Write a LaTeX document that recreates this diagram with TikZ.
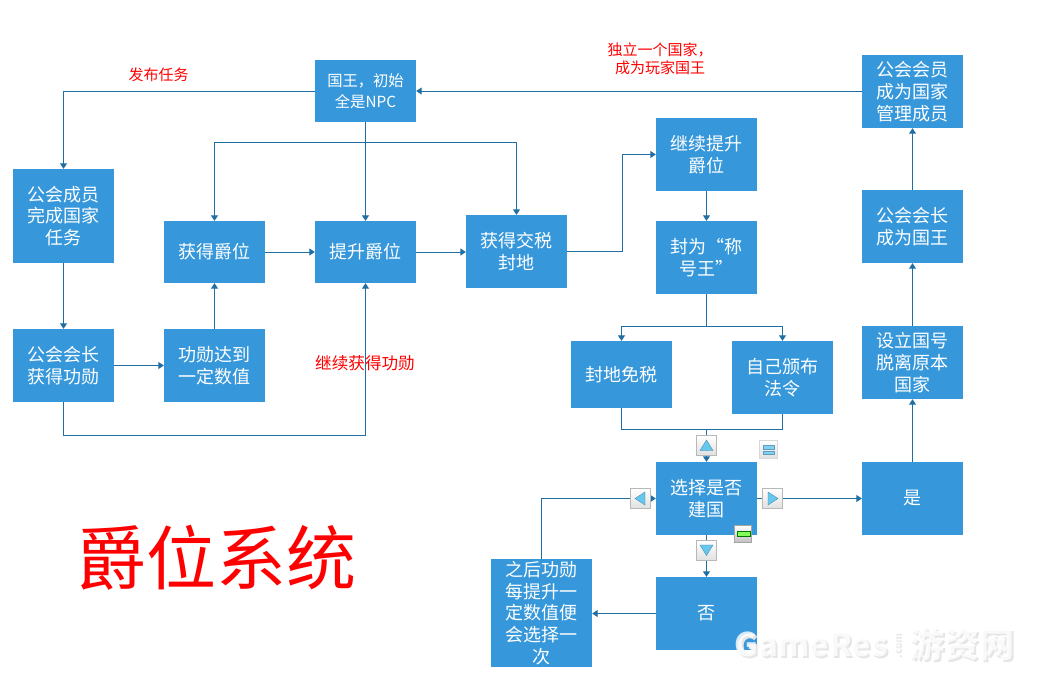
\documentclass[tikz,border=0pt]{standalone}
\usepackage{fontspec}
\setmainfont{Noto Sans CJK SC}
\usetikzlibrary{arrows.meta,calc}
\definecolor{boxblue}{HTML}{3698DB}
\definecolor{linkblue}{HTML}{1F6FA5}
\definecolor{skyicon}{HTML}{4DBDEA}
\tikzset{
  flowbox/.style={fill=boxblue,draw=none,text=white,inner sep=0pt,align=center,minimum width=101pt,
     font=\fontsize{18}{21.8}\selectfont},
  link/.style={draw=linkblue,line width=1pt,-{Triangle[length=5.5pt,width=7pt]}},
  plain/.style={draw=linkblue,line width=1pt},
  redtext/.style={text=red,align=center,inner sep=0pt,font=\fontsize{15}{18}\selectfont},
  iconbox/.style={draw=black!28,line width=.8pt,top color=white,bottom color=black!12},
  arrowicon/.style={fill=skyicon!85!white,draw=skyicon!70!black,line width=.3pt},
  wm/.style={inner sep=0pt,text=white,opacity=.8},
  wms/.style={inner sep=0pt,text=black!10},
}
\begin{document}
\begin{tikzpicture}[x=1pt,y=-1pt]
\useasboundingbox (0,0) rectangle (1039,678);
% boxes
\node[flowbox,minimum height=62pt,font=\fontsize{15.3}{21}\selectfont] (king) at (365.5,91) {国王，初始\\全是NPC};
\node[flowbox,minimum height=94pt] (member) at (63.5,216) {公会成员\\完成国家\\任务};
\node[flowbox,minimum height=73pt] (leader) at (63.5,365.5) {公会会长\\获得功勋};
\node[flowbox,minimum height=62pt] (gain) at (214.5,252) {获得爵位};
\node[flowbox,minimum height=73pt] (merit) at (214.5,365.5) {功勋达到\\一定数值};
\node[flowbox,minimum height=62pt] (raise) at (365.5,252) {提升爵位};
\node[flowbox,minimum height=73pt] (tax) at (516.5,251.5) {获得交税\\封地};
\node[flowbox,minimum height=73pt] (cont) at (706.5,154.5) {继续提升\\爵位};
\node[flowbox,minimum height=73pt] (titled) at (706.5,257.5) {封为“称\\号王”};
\node[flowbox,minimum height=67pt] (free) at (621.5,374.5) {封地免税};
\node[flowbox,minimum height=73pt] (law) at (782.5,377.5) {自己颁布\\法令};
\node[flowbox,minimum height=73pt] (choose) at (706.5,498.5) {选择是否\\建国};
\node[flowbox,minimum height=73pt] (no) at (706.5,613.5) {否};
\node[flowbox,minimum height=108pt] (after) at (541.5,613) {之后功勋\\每提升一\\定数值便\\会选择一\\次};
\node[flowbox,minimum height=73pt] (yes) at (912.5,498.5) {是};
\node[flowbox,minimum height=73pt] (setup) at (912.5,362.5) {设立国号\\脱离原本\\国家};
\node[flowbox,minimum height=73pt] (lead) at (912.5,226.5) {公会会长\\成为国王};
\node[flowbox,minimum height=73pt] (manage) at (912.5,91.5) {公会会员\\成为国家\\管理成员};
% helper coordinates
\coordinate (kbus) at (365.5,142);
\coordinate (tbus) at (706.5,326);
\coordinate (cbus) at (706.5,429);
\coordinate (lbus) at (365.5,435);
\coordinate (tjog) at (622,251.5);
% connectors
\draw[link] (king.west) -| (member.north);
\draw[link] (king.south) -- (raise.north);
\draw[link] (kbus) -| (gain.north);
\draw[link] (kbus) -| (tax.north);
\draw[link] (member.south) -- (leader.north);
\draw[link] (leader.east) -- (merit.west);
\draw[link] (merit.north) -- (gain.south);
\draw[link] (gain.east) -- (raise.west);
\draw[link] (raise.east) -- (tax.west |- raise.east);
\draw[link] (tax.east) -- (tjog) |- (cont.west);
\draw[link] (leader.south) |- (lbus) -- (raise.south);
\draw[link] (cont.south) -- (titled.north);
\draw[plain] (titled.south) -- (tbus);
\draw[link] (tbus) -| (free.north);
\draw[link] (tbus) -| (law.north);
\draw[plain] (free.south) |- (cbus);
\draw[plain] (law.south) |- (cbus);
\draw[link] (cbus) -- (choose.north);
\draw[link] (choose.east) -- (yes.west);
\draw[link] (choose.south) -- (no.north);
\draw[link] (no.west) -- (after.east |- no.west);
\draw[link] (after.north) |- (choose.west);
\draw[link] (yes.north) -- (setup.south);
\draw[link] (setup.north) -- (lead.south);
\draw[link] (lead.north) -- (manage.south);
\draw[link] (manage.west |- king.east) -- (king.east);
% selection handles
\draw[iconbox] (696.5,435.5) rectangle (716.5,455.5);
\draw[arrowicon] (706.5,440) -- (713,450.5) -- (700,450.5) -- cycle;
\draw[iconbox] (696.5,540.5) rectangle (716.5,560.5);
\draw[arrowicon] (706.5,555.5) -- (713,545) -- (700,545) -- cycle;
\draw[iconbox] (630.5,488.5) rectangle (650.5,508.5);
\draw[arrowicon] (635,498.5) -- (645,492) -- (645,505) -- cycle;
\draw[iconbox] (762.5,488.5) rectangle (782.5,508.5);
\draw[arrowicon] (778,498.5) -- (768,492) -- (768,505) -- cycle;
\draw[iconbox,draw=black!15] (759.5,440.5) rectangle (777.5,458);
\draw[fill=skyicon!70!white,draw=linkblue!70,line width=.4pt] (763,445.5) rectangle (774,449);
\draw[fill=skyicon!70!white,draw=linkblue!70,line width=.4pt] (763,451) rectangle (774,454.5);
\draw[iconbox,draw=black!35,bottom color=black!25] (734.5,525.5) rectangle (751.5,542.5);
\draw[fill=green!75!yellow!65,draw=green!45!black,line width=.5pt] (737.5,531.5) rectangle (750,536.5);
% labels
\node[redtext] (lblpub) at (158.5,74.5) {发布任务};
\node[redtext] (lblind) at (660,58.5) {独立一个国家，\\成为玩家国王};
\node[redtext,font=\fontsize{16.6}{18}\selectfont] (lblcon) at (365,363.5) {继续获得功勋};
\node[text=red,inner sep=0pt,font=\fontsize{70}{72}\selectfont] (headline) at (216.5,558) {爵位系统};
% watermark
\node[wms,font=\bfseries\fontsize{32.5}{32}\selectfont,anchor=west] (wm1s) at (736,646.5) {GameRes};
\node[wms,font=\bfseries\fontsize{10}{10}\selectfont,rotate=90] (wm2s) at (899,646) {.com};
\node[wms,font=\bfseries\fontsize{35}{35}\selectfont,anchor=west] (wm3s) at (911,645.5) {游资网};
\node[wm,font=\bfseries\fontsize{32.5}{32}\selectfont,anchor=west] (wm1) at (734,644.5) {GameRes};
\node[wm,font=\bfseries\fontsize{10}{10}\selectfont,rotate=90] (wm2) at (897,644) {.com};
\node[wm,font=\bfseries\fontsize{35}{35}\selectfont,anchor=west] (wm3) at (909,643.5) {游资网};
\end{tikzpicture}
\end{document}
